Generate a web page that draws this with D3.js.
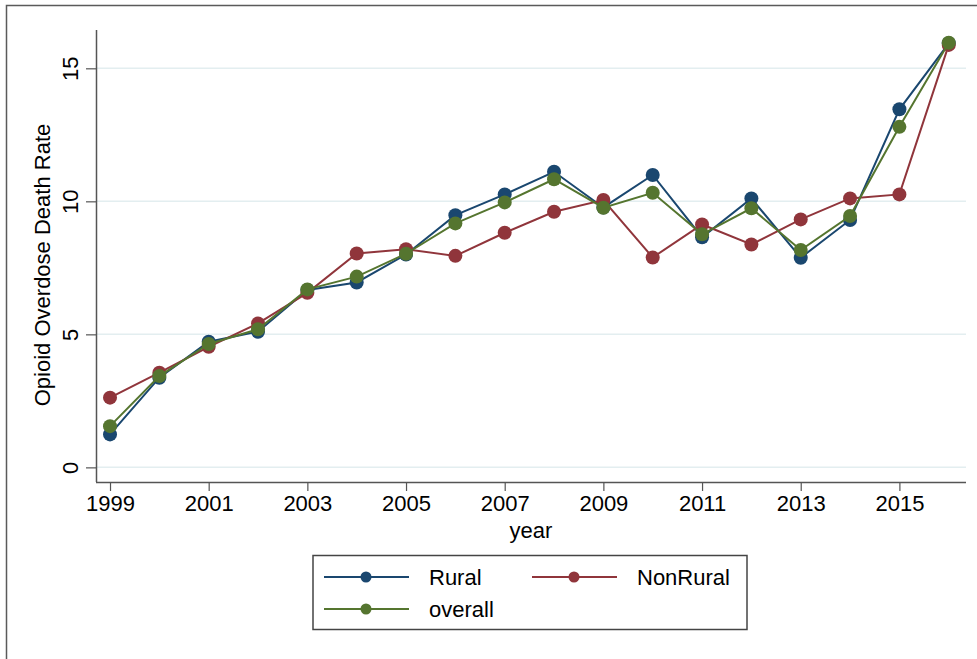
<!DOCTYPE html>
<html>
<head>
<meta charset="utf-8">
<script src="https://cdn.jsdelivr.net/npm/d3@7"></script>
<style>
  html, body { margin: 0; padding: 0; background: #fff; }
  svg { display: block; font-family: "Liberation Sans", Arial, Helvetica, sans-serif; }
</style>
</head>
<body>
<svg id="chart" width="977" height="659"></svg>
<script>
// Opioid overdose death rate by year, rural vs non-rural vs overall
const years = [1999, 2000, 2001, 2002, 2003, 2004, 2005, 2006, 2007, 2008,
               2009, 2010, 2011, 2012, 2013, 2014, 2015, 2016];
const rural = [1.24, 3.37, 4.72, 5.10, 6.67, 6.95, 8.00, 9.48, 10.26, 11.11,
               9.77, 10.99, 8.65, 10.11, 7.88, 9.30, 13.46, 15.94];
const nonRural = [2.62, 3.56, 4.53, 5.41, 6.56, 8.04, 8.20, 7.95, 8.82, 9.61,
                  10.05, 7.89, 9.13, 8.38, 9.32, 10.11, 10.26, 15.88];
const overall = [1.55, 3.43, 4.64, 5.19, 6.69, 7.17, 8.03, 9.17, 9.96, 10.83,
                 9.76, 10.32, 8.76, 9.74, 8.17, 9.45, 12.80, 15.96];
const xTicks = [1999, 2001, 2003, 2005, 2007, 2009, 2011, 2013, 2015];
const yTicks = [0, 5, 10, 15];
const seriesNames = ["Rural", "NonRural", "overall"];
const seriesColors = ["#1a476f", "#90353b", "#55752f"];

const svg = d3.select("#chart");
const plot = { left: 96, right: 966, top: 30, bottom: 482 };

const x = d3.scaleLinear().domain([1998.716, 2016.35]).range([plot.left, plot.right]);
const y = d3.scaleLinear().domain([-0.55, 16.44]).range([plot.bottom, plot.top]);

// outer frame (top and left edges)
svg.append("path")
  .attr("d", "M6.5,659 V5.5 H977")
  .attr("fill", "none").attr("stroke", "#5a5a5a").attr("stroke-width", 1.5);

// horizontal gridlines
svg.append("g").selectAll("line").data(yTicks).join("line")
  .attr("x1", plot.left).attr("x2", plot.right)
  .attr("y1", d => y(d)).attr("y2", d => y(d))
  .attr("stroke", "#e3eef0").attr("stroke-width", 1.5);

// y axis
const yAxis = d3.axisLeft(y).tickValues(yTicks).tickSize(10).tickPadding(0).tickFormat(d3.format("d"));
const gy = svg.append("g").attr("transform", `translate(${plot.left},0)`).call(yAxis);
gy.select(".domain").attr("d", `M0.5,${plot.top}V${plot.bottom}`).attr("stroke", "#555").attr("stroke-width", 1.5);
gy.selectAll(".tick line").attr("stroke", "#555").attr("stroke-width", 1.2);
gy.selectAll(".tick text")
  .attr("font-size", 22).attr("fill", "#000")
  .attr("text-anchor", "middle")
  .attr("transform", "translate(-26,0) rotate(-90)")
  .attr("x", 0).attr("dy", "0.35em");

// x axis
const xAxis = d3.axisBottom(x).tickValues(xTicks).tickSize(9).tickPadding(4).tickFormat(d3.format("d"));
const gx = svg.append("g").attr("transform", `translate(0,${plot.bottom})`).call(xAxis);
gx.select(".domain").attr("d", `M${plot.left},0.5H${plot.right}`).attr("stroke", "#555").attr("stroke-width", 1.5);
gx.selectAll(".tick line").attr("stroke", "#555").attr("stroke-width", 1.2);
gx.selectAll(".tick text").attr("font-size", 22).attr("fill", "#000");

// axis titles
svg.append("text")
  .attr("transform", `translate(50,${(plot.top + plot.bottom) / 2 + 9}) rotate(-90)`)
  .attr("text-anchor", "middle").attr("font-size", 22).attr("fill", "#000")
  .text("Opioid Overdose Death Rate");
svg.append("text")
  .attr("x", (plot.left + plot.right) / 2).attr("y", 538)
  .attr("text-anchor", "middle").attr("font-size", 22).attr("fill", "#000")
  .text("year");

// series lines and markers
const allSeries = [rural, nonRural, overall];
const line = d3.line().x((d, i) => x(years[i])).y(d => y(d));
allSeries.forEach((vals, k) => {
  const g = svg.append("g");
  g.append("path").datum(vals)
    .attr("d", line).attr("fill", "none")
    .attr("stroke", seriesColors[k]).attr("stroke-width", 2);
  g.selectAll("circle").data(vals).join("circle")
    .attr("cx", (d, i) => x(years[i])).attr("cy", d => y(d))
    .attr("r", 7).attr("fill", seriesColors[k]);
});

// legend
const lg = svg.append("g");
lg.append("rect").attr("x", 313).attr("y", 555.5).attr("width", 434).attr("height", 74)
  .attr("fill", "#fff").attr("stroke", "#444").attr("stroke-width", 1.5);
const legendPos = [
  { lx: 324, tx: 429, y: 577 },
  { lx: 532, tx: 637, y: 577 },
  { lx: 324, tx: 429, y: 609 }
];
seriesNames.forEach((name, k) => {
  const p = legendPos[k];
  lg.append("line").attr("x1", p.lx).attr("x2", p.lx + 85)
    .attr("y1", p.y).attr("y2", p.y)
    .attr("stroke", seriesColors[k]).attr("stroke-width", 2);
  lg.append("circle").attr("cx", p.lx + 42).attr("cy", p.y).attr("r", 5.5)
    .attr("fill", seriesColors[k]);
  lg.append("text").attr("x", p.tx).attr("y", p.y + 8)
    .attr("font-size", 22).attr("fill", "#000").text(name);
});
</script>
</body>
</html>
